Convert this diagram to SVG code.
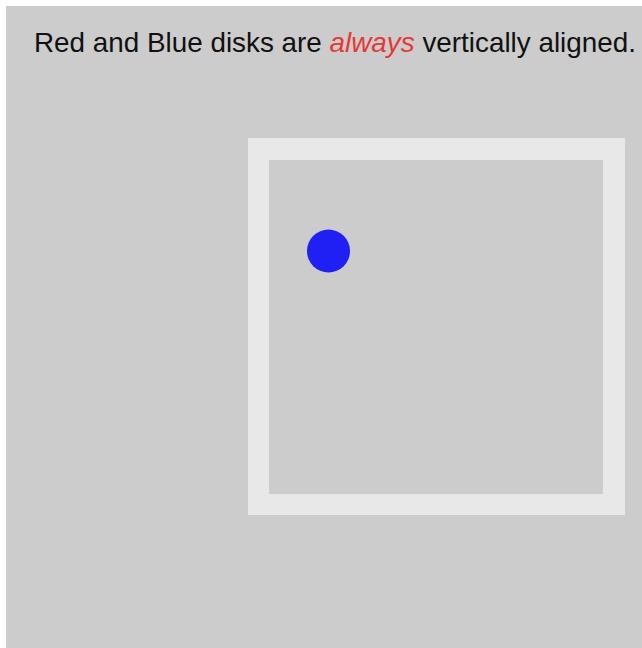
<svg xmlns="http://www.w3.org/2000/svg" width="642" height="648" viewBox="0 0 642 648">
<style>
.t{font-family:"Liberation Sans",Arial,sans-serif;font-size:28px;fill:#111}
.em{fill:#e53935;font-style:italic}
</style>
<rect x="0" y="0" width="642" height="648" fill="#ffffff"/>
<rect x="6" y="6" width="636" height="642" fill="#cccccc"/>
<text class="t" x="34" y="52" textLength="602" lengthAdjust="spacingAndGlyphs">Red and Blue disks are <tspan class="em">always</tspan> vertically aligned.</text>
<g id="frame">
<rect x="248" y="138" width="377" height="377" fill="#e8e8e8"/>
<rect x="269" y="160" width="334" height="334" fill="#cccccc"/>
</g>
<g id="blue-disk">
<circle cx="328.5" cy="251" r="21.5" fill="#2020f5"/>
</g>
</svg>
